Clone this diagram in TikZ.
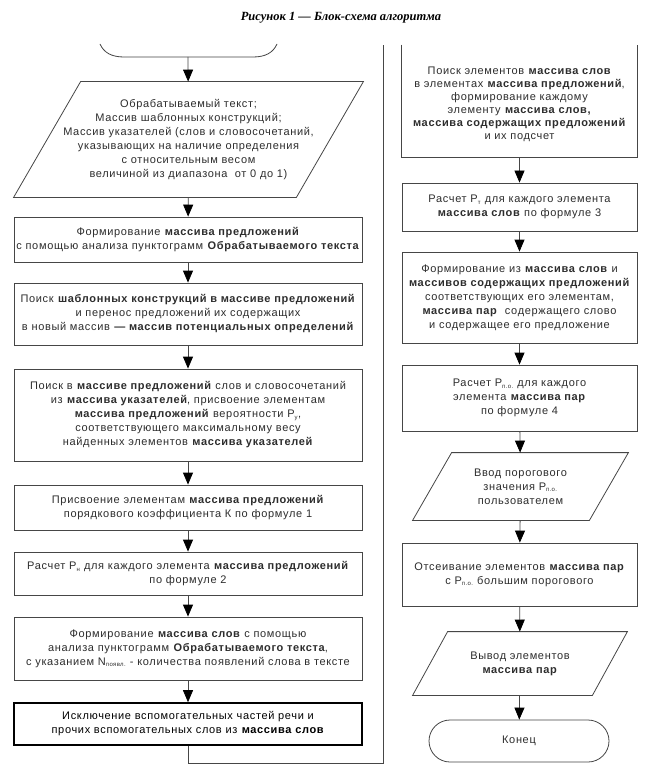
\documentclass[tikz,border=0pt]{standalone}
\usepackage{fontspec}
\setmainfont{Liberation Sans}[LetterSpace=6]
\newfontfamily\titlefont{Liberation Serif}
\usetikzlibrary{arrows.meta}
\definecolor{linegray}{RGB}{70,70,70}
\definecolor{txtgray}{RGB}{45,45,45}
\newcommand{\txtfont}{\fontsize{11}{14}\selectfont}
\newcommand{\sbs}[1]{\textsubscript{\fontsize{6}{6}\selectfont #1}}
\begin{document}
\begin{tikzpicture}[x=1pt,y=-1pt,
  txt/.style={align=center, inner sep=0pt, font=\txtfont, text=txtgray},
  lbox/.style={txt, draw=linegray, line width=0.8pt, minimum width=348pt},
  rbox/.style={txt, draw=linegray, line width=0.8pt, minimum width=235pt},
  ghost/.style={txt, draw=none, line width=0.8pt},
  link/.style={draw=linegray, line width=0.8pt},
  flow/.style={link, -{Triangle[width=10pt,length=12pt,fill=black,color=black]}}
]
\useasboundingbox (0,0) rectangle (649,778);
\fill[white] (0,0) rectangle (649,778);

% title
\node[inner sep=0pt] (title) at (341,18) {\titlefont\fontsize{12.5}{14}\selectfont\bfseries\itshape Рисунок 1 — Блок-схема алгоритма};

% start terminal (bottom part)
\coordinate (s) at (188,57);
\draw[link] (100,44) .. controls (104,53) and (112,57) .. (124,57) -- (253,57) .. controls (265,57) and (273,53) .. (277,44);

% left column
\node[ghost, minimum width=349pt, minimum height=115pt] (p1) at (188.5,139.5)
 {Обрабатываемый текст;\\ Массив шаблонных конструкций;\\ Массив указателей (слов и словосочетаний,\\ указывающих на наличие определения\\ с относительным весом\\ величиной из диапазона\ \ от 0 до 1)};
\draw[link] ([xshift=67pt]p1.north west) -- (p1.north east) -- ([xshift=-67pt]p1.south east) -- (p1.south west) -- cycle;

\node[lbox, minimum height=45pt] (b2) at (188,239.5)
 {Формирование \textbf{массива предложений}\\ с помощью анализа пунктограмм \textbf{Обрабатываемого текста}};
\node[lbox, minimum height=62pt] (b3) at (188,314)
 {Поиск \textbf{шаблонных конструкций в массиве предложений}\\ и перенос предложений их содержащих\\ в новый массив \textbf{— массив потенциальных определений}};
\node[lbox, minimum height=92pt] (b4) at (188,415)
 {Поиск в \textbf{массиве предложений} слов и словосочетаний\\ из \textbf{массива указателей}, присвоение элементам\\ \textbf{массива предложений} вероятности P\sbs{у},\\ соответствующего максимальному весу\\ найденных элементов \textbf{массива указателей}};
\node[lbox, minimum height=45pt] (b5) at (188,507.5)
 {Присвоение элементам \textbf{массива предложений}\\ порядкового коэффициента К по формуле 1};
\node[lbox, minimum height=43pt] (b6) at (188,573.5)
 {Расчет P\sbs{н} для каждого элемента \textbf{массива предложений}\\ по формуле 2};
\node[lbox, minimum height=63pt] (b7) at (188,648.5)
 {Формирование \textbf{массива слов} с помощью\\ анализа пунктограмм \textbf{Обрабатываемого текста},\\ с указанием N\sbs{появл.} - количества появлений слова в тексте};
\node[lbox, line width=1.6pt, draw=black, text=black, minimum height=42pt] (b8) at (188,724)
 {Исключение вспомогательных частей речи и\\ прочих вспомогательных слов из \textbf{массива слов}};

% right column
\node[ghost, minimum width=235pt, minimum height=106pt, font=\fontsize{11}{13}\selectfont] (r1) at (519.5,104)
 {Поиск элементов \textbf{массива слов}\\ в элементах \textbf{массива предложений},\\ формирование каждому\\ элементу \textbf{массива слов,}\\ \textbf{массива содержащих предложений}\\ и их подсчет};
\draw[link] ([yshift=6pt]r1.north west) -- (r1.south west) -- (r1.south east) -- ([yshift=6pt]r1.north east);

\node[rbox, minimum height=48pt] (r2) at (519.5,207)
 {Расчет P\sbs{т} для каждого элемента\\ \textbf{массива слов} по формуле 3};
\node[rbox, minimum height=91pt] (r3) at (519.5,297.5)
 {Формирование из \textbf{массива слов} и\\ \textbf{массивов содержащих предложений}\\ соответствующих его элементам,\\ \textbf{массива пар}\ \ содержащего слово\\ и содержащее его предложение};
\node[rbox, minimum height=66pt] (r4) at (519.5,398)
 {Расчет P\sbs{п.о.} для каждого\\ элемента \textbf{массива пар}\\ по формуле 4};
\node[ghost, minimum width=215pt, minimum height=67pt] (r5) at (520.5,486.5)
 {Ввод порогового\\ значения P\sbs{п.о.}\\ пользователем};
\draw[link] ([xshift=39pt]r5.north west) -- (r5.north east) -- ([xshift=-39pt]r5.south east) -- (r5.south west) -- cycle;
\node[rbox, minimum height=63pt] (r6) at (519.5,574.5)
 {Отсеивание элементов \textbf{массива пар}\\ с P\sbs{п.о.} большим порогового};
\node[ghost, minimum width=214pt, minimum height=63pt] (r7) at (520,663.5)
 {Вывод элементов\\ \textbf{массива пар}};
\draw[link] ([xshift=35pt]r7.north west) -- (r7.north east) -- ([xshift=-35pt]r7.south east) -- (r7.south west) -- cycle;
\node[txt, draw=linegray, line width=0.8pt, minimum width=180pt, minimum height=42pt, rounded corners=21pt] (end) at (519,741) {Конец};

% connectors
\draw[flow] (s) -- (p1);
\draw[flow] (p1) -- (b2);
\draw[flow] (b2) -- (b3);
\draw[flow] (b3) -- (b4);
\draw[flow] (b4) -- (b5);
\draw[flow] (b5) -- (b6);
\draw[flow] (b6) -- (b7);
\draw[flow] (b7) -- (b8);
\coordinate (loopc) at (383,763);
\coordinate (cont) at (383,45);
\draw[link] (b8.south) |- (loopc) -- (cont);

\draw[flow] (r1.south) -- (r2);
\draw[flow] (r2) -- (r3);
\draw[flow] (r3) -- (r4);
\draw[flow] (r4) -- (r5);
\draw[flow] (r5) -- (r6);
\draw[flow] (r6) -- (r7);
\draw[flow] (r7) -- (end);
\end{tikzpicture}
\end{document}
